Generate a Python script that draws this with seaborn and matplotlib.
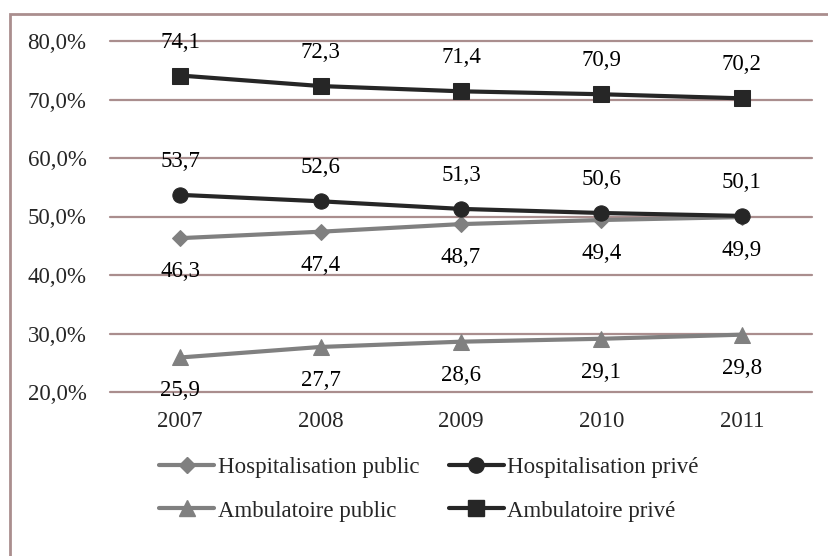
import matplotlib
matplotlib.use("Agg")
import matplotlib.pyplot as plt
import seaborn as sns
import pandas as pd
from matplotlib.patches import Rectangle

# Data
years = [2007, 2008, 2009, 2010, 2011]
hosp_public = [46.3, 47.4, 48.7, 49.4, 49.9]
hosp_prive = [53.7, 52.6, 51.3, 50.6, 50.1]
amb_public = [25.9, 27.7, 28.6, 29.1, 29.8]
amb_prive = [74.1, 72.3, 71.4, 70.9, 70.2]
series_names = ["Hospitalisation public", "Hospitalisation privé",
                "Ambulatoire public", "Ambulatoire privé"]
series_values = [hosp_public, hosp_prive, amb_public, amb_prive]
y_ticks = [20, 30, 40, 50, 60, 70, 80]

sns.set_theme(style="white")
plt.rcParams['font.family'] = ['Liberation Serif', 'DejaVu Serif']

df = pd.DataFrame(
    [(y, v, n) for n, vals in zip(series_names, series_values) for y, v in zip(years, vals)],
    columns=["year", "value", "series"],
)
df["pos"] = df["year"].map({y: i for i, y in enumerate(years)})

gray = "#808080"
dark = "#262626"
palette = {series_names[0]: gray, series_names[1]: dark,
           series_names[2]: gray, series_names[3]: dark}
markers = {series_names[0]: "D", series_names[1]: "o",
           series_names[2]: "^", series_names[3]: "s"}
msizes = {series_names[0]: 8, series_names[1]: 11,
          series_names[2]: 12, series_names[3]: 11}

W, H = 829, 556
fig = plt.figure(figsize=(W / 100, H / 100), dpi=100)
ax = fig.add_axes([110 / W, 1 - 392 / H, (812 - 110) / W, (392 - 41) / H])

grid_color = "#aa8e8e"
for t in y_ticks:
    ax.axhline(t, color=grid_color, lw=1.6, zorder=0, clip_on=False)

for name in series_names:
    sub = df[df["series"] == name]
    sns.lineplot(data=sub, x="pos", y="value", color=palette[name],
                 marker=markers[name], markersize=msizes[name],
                 markeredgecolor=palette[name], linewidth=3.0,
                 ax=ax, label=name, legend=False, zorder=3)

# Value labels: private above, public below
for name, vals in zip(series_names, series_values):
    off = 24 if "privé" in name else -24
    for i, v in enumerate(vals):
        ax.annotate(f"{v:.1f}".replace(".", ","), (i, v),
                    xytext=(0, off), textcoords="offset points",
                    ha="center", va="center", fontsize=16.5, color="black")

ax.set_xlim(-0.5, 4.5)
ax.set_ylim(20, 80)
ax.set_yticks(y_ticks)
ax.set_yticklabels([f"{t},0%" for t in y_ticks], fontsize=16.5)
ax.set_xticks(range(len(years)))
ax.set_xticklabels([str(y) for y in years], fontsize=16.5)
ax.tick_params(axis="y", length=0, pad=17)
ax.tick_params(axis="x", length=0, pad=14)
ax.set_xlabel("")
ax.set_ylabel("")
for s in ax.spines.values():
    s.set_visible(False)

# Legend laid out row by row: public series in the left column
order = [0, 2, 1, 3]
handles = [plt.Line2D([], [], color=palette[series_names[k]], marker=markers[series_names[k]],
                      markersize=msizes[series_names[k]], linewidth=3.0) for k in order]
fig.legend(handles, [series_names[k] for k in order], ncol=2, loc="center",
           bbox_to_anchor=(429 / W, 1 - 489 / H), frameon=False,
           fontsize=16.5, handlelength=2.4, handletextpad=0.15,
           columnspacing=1.3, labelspacing=1.0)

# Chart outer border
fig.patches.append(Rectangle((10 / W, -0.1), 1.2, 1 - 14 / H + 0.1,
                             transform=fig.transFigure, fill=False,
                             edgecolor=grid_color, linewidth=2.0))

fig.savefig("out.png", dpi=100)
